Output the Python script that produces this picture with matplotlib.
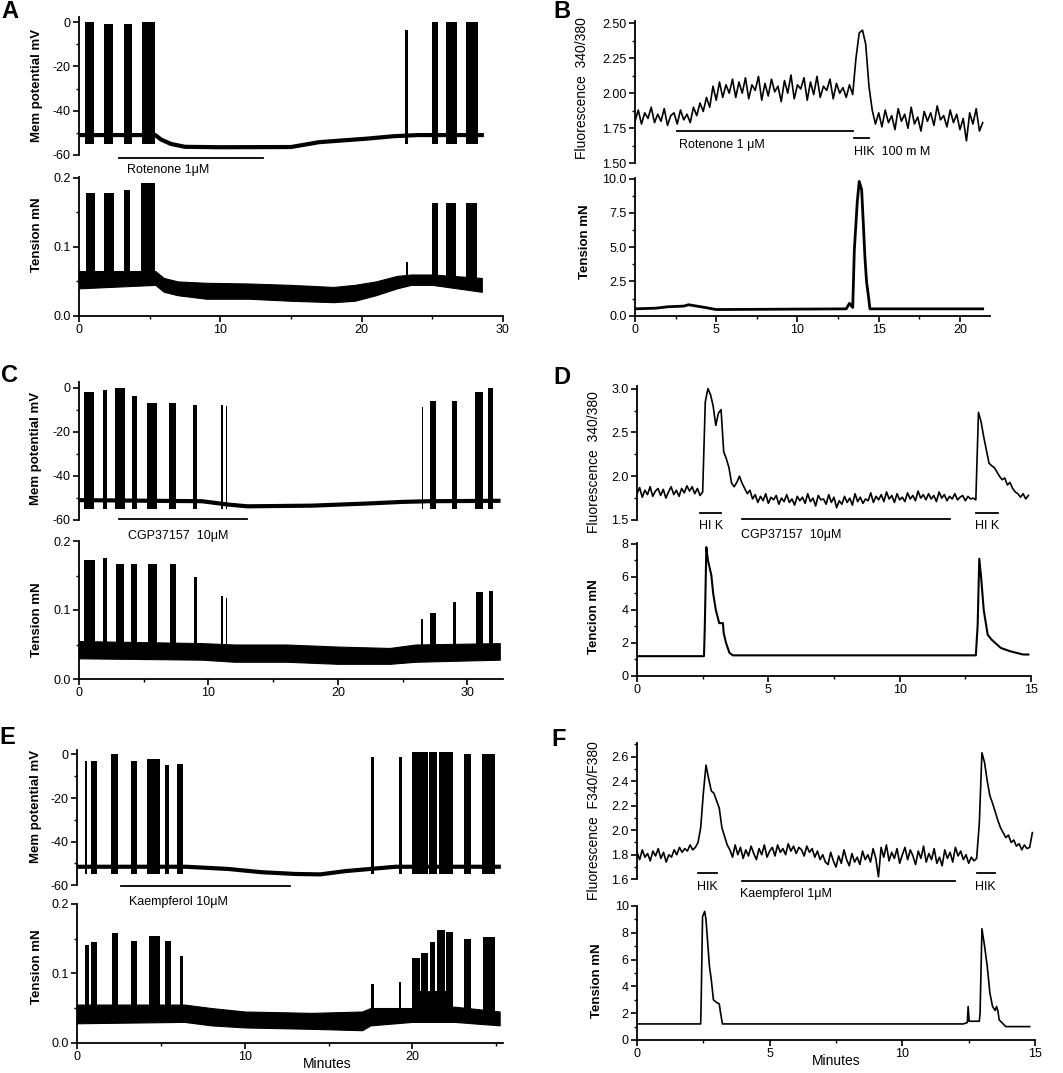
import numpy as np
import matplotlib
matplotlib.use("Agg")
import matplotlib.pyplot as plt
from matplotlib.ticker import MultipleLocator, FormatStrFormatter

plt.rcParams["font.family"] = ["Liberation Sans", "DejaVu Sans"]

W, H = 1063, 1073

# ---------------- A: rotenone, membrane potential / tension ----------------
a_mem_t = [0, 5.4, 5.8, 6.5, 7.5, 10, 15, 17, 20.4, 22.3, 24, 28.5]
a_mem_v = [-51, -51, -53, -55, -56.3, -56.5, -56.4, -54.2, -52.6, -51.5, -51, -51]
a_burst_start = [0.42, 1.77, 3.18, 4.46, 23.1, 24.96, 25.97, 27.4]
a_burst_end = [1.06, 2.41, 3.75, 5.38, 23.3, 25.4, 26.75, 28.2]
a_burst_peak = [0, -1, -1, 0, -3.6, 0, 0, 0]

a_ten_t = [0, 5.4, 6, 7, 9, 12, 15, 18, 19.5, 21, 22.5, 23.5, 25, 28.5]
a_ten_lo = [0.04, 0.045, 0.035, 0.03, 0.025, 0.025, 0.022, 0.02, 0.022, 0.03, 0.04, 0.045, 0.045, 0.035]
a_ten_hi = [0.065, 0.065, 0.055, 0.05, 0.048, 0.047, 0.045, 0.042, 0.045, 0.05, 0.058, 0.06, 0.06, 0.055]
a_con_start = [0.5, 1.8, 3.15, 4.4, 23.15, 24.95, 26.0, 27.35]
a_con_end = [1.1, 2.45, 3.6, 5.35, 23.3, 25.4, 26.7, 28.15]
a_con_top = [0.178, 0.178, 0.182, 0.193, 0.078, 0.163, 0.164, 0.163]

# ---------------- B: rotenone, fluorescence / tension ----------------
b_fl_dt = 0.2
b_fl_v = [1.80, 1.88, 1.78, 1.86, 1.82, 1.90, 1.79, 1.85, 1.80, 1.89, 1.77, 1.84, 1.86, 1.78, 1.88, 1.81,
          1.85, 1.79, 1.90, 1.84, 1.93, 1.87, 1.97, 1.90, 2.05, 1.95, 2.08, 1.97, 2.06, 2.00, 2.10,
          1.97, 2.08, 2.00, 2.11, 1.96, 2.06, 2.02, 2.12, 1.95, 2.07, 1.98, 2.10, 2.01, 2.05, 1.94, 2.09,
          2.00, 2.13, 1.96, 2.06, 2.03, 2.11, 1.95, 2.08, 1.99, 2.12, 1.97, 2.05, 2.02, 2.10, 1.96, 2.07,
          2.00, 2.04, 1.97, 2.06, 1.99,
          2.25, 2.43, 2.45, 2.35, 2.05, 1.88, 1.78,
          1.86, 1.76, 1.88, 1.79, 1.84, 1.74, 1.89, 1.80, 1.85, 1.75, 1.90, 1.78, 1.83, 1.73, 1.87, 1.80,
          1.86, 1.77, 1.91, 1.81, 1.84, 1.76, 1.88, 1.79, 1.85, 1.74, 1.82, 1.66, 1.86, 1.78, 1.89, 1.73, 1.79]
b_ten_t = [0, 1.3, 2.0, 3.0, 3.3, 4.3, 5.0, 13.0, 13.2, 13.4, 13.5, 13.68, 13.8, 13.95, 14.05, 14.15,
           14.25, 14.36, 14.46, 21.4]
b_ten_v = [0.5, 0.55, 0.65, 0.7, 0.8, 0.6, 0.45, 0.5, 0.9, 0.6, 4.8, 8.3, 9.8, 9.2, 6.8, 4.3,
           2.5, 1.5, 0.5, 0.5]

# ---------------- C: CGP37157, membrane potential / tension ----------------
c_mem_t = [0, 9.5, 11.5, 13, 18, 22, 25, 27, 32.4]
c_mem_v = [-51, -51.5, -53, -53.8, -53.5, -52.6, -51.8, -51.5, -51.3]
c_burst_start = [0.41, 1.83, 2.78, 4.07, 5.23, 6.97, 8.78, 11.0, 11.33, 26.46, 27.1, 28.83, 30.58, 31.6]
c_burst_end = [1.18, 2.19, 3.55, 4.45, 6.0, 7.49, 9.14, 11.12, 11.45, 26.58, 27.6, 29.16, 31.17, 32.0]
c_burst_peak = [-2, -1, 0, -4, -7, -7, -8, -8, -8.5, -9, -6, -6, -2, 0]

c_ten_t = [0, 9.5, 12, 16, 20, 24, 26, 32.5]
c_ten_lo = [0.03, 0.028, 0.025, 0.025, 0.022, 0.022, 0.025, 0.028]
c_ten_hi = [0.055, 0.052, 0.05, 0.05, 0.047, 0.045, 0.05, 0.052]
c_con_start = [0.42, 1.85, 2.85, 4.05, 5.3, 7.05, 8.85, 11.0, 11.33, 26.45, 27.1, 28.85, 30.65, 31.65]
c_con_end = [1.2, 2.15, 3.5, 4.5, 6.0, 7.5, 9.12, 11.1, 11.45, 26.58, 27.6, 29.15, 31.2, 32.0]
c_con_top = [0.172, 0.176, 0.167, 0.167, 0.167, 0.167, 0.148, 0.12, 0.118, 0.087, 0.095, 0.112, 0.126, 0.127]

# ---------------- D: CGP37157, fluorescence / tension ----------------
d_fl_dt = 0.1
d_fl_v = [1.80, 1.87, 1.76, 1.84, 1.79, 1.88, 1.77, 1.83, 1.86, 1.78, 1.85, 1.75, 1.82, 1.88, 1.79, 1.84,
          1.77, 1.86, 1.81, 1.89, 1.83, 1.88, 1.80, 1.86, 1.78, 1.82,
          2.85, 3.00, 2.93, 2.80, 2.58, 2.72, 2.76, 2.28, 2.20, 2.10, 1.92, 1.88, 1.93, 2.00, 1.92, 1.86, 1.80,
          1.84, 1.74, 1.79, 1.70, 1.77, 1.72, 1.80, 1.69, 1.76, 1.73,
          1.78, 1.68, 1.75, 1.71, 1.79, 1.70, 1.74, 1.67, 1.77, 1.72,
          1.76, 1.69, 1.80, 1.71, 1.75, 1.66, 1.78, 1.73, 1.74, 1.68,
          1.79, 1.70, 1.76, 1.64, 1.72, 1.68, 1.77, 1.70, 1.75, 1.67,
          1.80, 1.71, 1.76, 1.69, 1.74, 1.72, 1.81, 1.70, 1.77, 1.73,
          1.79, 1.71, 1.82, 1.74, 1.78, 1.70, 1.80, 1.73, 1.76, 1.71,
          1.81, 1.74, 1.78, 1.72, 1.83, 1.75, 1.79, 1.73, 1.80, 1.74,
          1.78, 1.71, 1.82, 1.75, 1.79, 1.72, 1.77, 1.74, 1.80, 1.73,
          1.76, 1.78, 1.72, 1.77, 1.74, 1.75, 1.73,
          2.73, 2.62, 2.45, 2.30, 2.15, 2.12, 2.10, 2.05, 2.00, 1.96, 1.98, 1.90, 1.93, 1.86, 1.82, 1.80,
          1.76, 1.80, 1.74, 1.78]
d_ten_t = [0, 2.55, 2.58, 2.64, 2.7, 2.83, 2.9, 3.0, 3.13, 3.27, 3.3, 3.39, 3.52, 3.65, 12.9, 12.97,
           13.03, 13.1, 13.2, 13.35, 13.5, 13.85, 14.2, 14.7, 14.9]
d_ten_v = [1.2, 1.2, 2.9, 7.8, 7.0, 6.1, 5.0, 4.0, 3.2, 3.2, 2.6, 2.0, 1.4, 1.25, 1.25, 3.1,
           7.1, 6.0, 4.0, 2.5, 2.2, 1.7, 1.5, 1.3, 1.3]

# ---------------- E: kaempferol, membrane potential / tension ----------------
e_mem_t = [0, 6.5, 9, 11, 13, 14.5, 16, 17.5, 19, 25.15]
e_mem_v = [-51.5, -51.5, -52.5, -54, -54.8, -55, -53.5, -52.5, -51.5, -51.5]
e_burst_start = [0.48, 0.82, 2.0, 3.2, 4.15, 5.25, 5.95, 17.55, 19.2, 20.0, 21.0, 21.6, 23.1, 24.15]
e_burst_end = [0.62, 1.17, 2.46, 3.56, 4.95, 5.5, 6.3, 17.68, 19.35, 20.95, 21.45, 22.44, 23.5, 24.9]
e_burst_peak = [-3, -3, 0, -3, -2, -5, -4.5, -1, -1, 1, 1, 1, 0, 0]

e_ten_t = [0, 6.4, 8, 10, 14, 17, 17.5, 20, 22.5, 25.2]
e_ten_lo = [0.028, 0.03, 0.025, 0.022, 0.02, 0.018, 0.025, 0.03, 0.03, 0.025]
e_ten_hi = [0.055, 0.055, 0.05, 0.045, 0.043, 0.045, 0.05, 0.05, 0.052, 0.045]
e_con_start = [0.48, 0.86, 2.1, 3.24, 4.27, 5.26, 6.12, 17.55, 19.2, 20.0, 20.0, 20.5, 21.05, 21.45, 22.0, 23.1, 24.2]
e_con_end = [0.72, 1.2, 2.46, 3.56, 4.93, 5.6, 6.3, 17.68, 19.32, 22.4, 20.47, 20.95, 21.35, 21.95, 22.4, 23.5, 24.9]
e_con_top = [0.141, 0.145, 0.158, 0.146, 0.154, 0.146, 0.125, 0.085, 0.088, 0.075, 0.122, 0.13, 0.145, 0.162, 0.16, 0.15, 0.152]

# ---------------- F: kaempferol, fluorescence / tension ----------------
f_fl_dt = 0.1
f_fl_v = [1.82, 1.76, 1.84, 1.78, 1.81, 1.75, 1.83, 1.79, 1.85, 1.77, 1.82, 1.74, 1.80, 1.78, 1.84, 1.80,
          1.86, 1.82, 1.85, 1.83, 1.88, 1.84, 1.86, 1.90,
          2.02, 2.30, 2.53, 2.42, 2.32, 2.30, 2.24, 2.18, 2.02, 1.95, 1.88, 1.84,
          1.78, 1.88, 1.80, 1.86, 1.77, 1.84, 1.79, 1.87, 1.81, 1.76, 1.85, 1.80, 1.88, 1.78, 1.83, 1.86,
          1.79, 1.88, 1.82, 1.85, 1.80, 1.89, 1.83, 1.87, 1.81, 1.86, 1.84, 1.79, 1.87, 1.82, 1.85, 1.78,
          1.83, 1.76,
          1.80, 1.74, 1.72, 1.82, 1.75, 1.70, 1.79, 1.73, 1.84, 1.76, 1.71, 1.81, 1.74, 1.78, 1.72, 1.83,
          1.76, 1.80, 1.74, 1.85, 1.77, 1.62,
          1.86, 1.78, 1.88, 1.75, 1.82, 1.77, 1.85, 1.73, 1.80, 1.86, 1.76, 1.84, 1.79, 1.72, 1.83, 1.77,
          1.87, 1.74, 1.81, 1.76, 1.85, 1.73, 1.78, 1.71, 1.84, 1.77, 1.82, 1.74, 1.86, 1.79, 1.83, 1.76,
          1.80, 1.73, 1.78, 1.75, 1.77,
          2.05, 2.63, 2.55, 2.40, 2.28, 2.22, 2.15, 2.08, 2.02, 1.98, 1.94, 1.96, 1.90, 1.92, 1.87, 1.89,
          1.84, 1.88, 1.85, 1.86, 1.98]
f_ten_t = [0, 2.4, 2.42, 2.47, 2.55, 2.6, 2.67, 2.73, 2.8, 2.88, 3.0, 3.1, 3.15, 3.22, 12.3, 12.45,
           12.48, 12.52, 12.9, 12.93, 13.0, 13.1, 13.2, 13.3, 13.4, 13.5, 13.55, 13.6, 13.65, 13.9, 14.8]
f_ten_v = [1.2, 1.2, 3.0, 9.2, 9.6, 9.0, 7.1, 5.5, 4.5, 3.0, 2.8, 2.7, 2.0, 1.2, 1.2, 1.3,
           2.5, 1.4, 1.4, 2.0, 8.3, 7.0, 5.5, 3.5, 2.5, 2.2, 2.5, 2.2, 1.5, 1.0, 1.0]

# drug application bars: (start, end, label)
a_drugs = [(2.8, 13.0, "Rotenone 1μM")]
b_drugs = [(2.6, 13.4, "Rotenone 1 μM"), (13.48, 14.4, "HIK  100 m M")]
c_drugs = [(3.1, 13.0, "CGP37157  10μM")]
d_drugs = [(2.4, 3.2, "HI K"), (4.0, 11.9, "CGP37157  10μM"), (12.9, 13.75, "HI K")]
e_drugs = [(2.6, 12.7, "Kaempferol 10μM")]
f_drugs = [(2.3, 3.0, "HIK"), (3.95, 12.0, "Kaempferol 1μM"), (12.8, 13.5, "HIK")]


fig = plt.figure(figsize=(W / 100, H / 100), dpi=100)


def axes_px(left, top, right, bottom):
    return fig.add_axes([left / W, 1 - bottom / H, (right - left) / W, (bottom - top) / H])


def style(ax, xlim, ylim, ymaj, ymin, yfmt, xmaj=None, xmin=None):
    ax.set_xlim(xlim)
    ax.set_ylim(ylim)
    ax.patch.set_visible(False)
    ax.spines["top"].set_visible(False)
    ax.spines["right"].set_visible(False)
    for s in ["left", "bottom"]:
        ax.spines[s].set_linewidth(1.3)
    ax.yaxis.set_major_locator(MultipleLocator(ymaj))
    ax.yaxis.set_minor_locator(MultipleLocator(ymin))
    ax.yaxis.set_major_formatter(FormatStrFormatter(yfmt))
    ax.tick_params(which="major", direction="out", length=4, width=1.2, labelsize=9, pad=2)
    ax.tick_params(which="minor", direction="out", length=2.5, width=1.0)
    if xmaj is None:
        ax.spines["bottom"].set_visible(False)
        ax.xaxis.set_visible(False)
    else:
        ax.xaxis.set_major_locator(MultipleLocator(xmaj))
        ax.xaxis.set_minor_locator(MultipleLocator(xmin))
        ax.xaxis.set_major_formatter(FormatStrFormatter("%d"))


def draw_blocks(ax, starts, ends, tops, floor):
    widths = np.subtract(ends, starts)
    heights = np.subtract(tops, floor)
    ax.bar(starts, heights, width=widths, bottom=floor, align="edge", color="k", lw=0)


def draw_drugs(ax, drugs, line_y, text_y, lw=1.3):
    for start, end, label in drugs:
        ax.plot([start, end], [line_y, line_y], color="k", lw=lw, clip_on=False)
        ax.text(start + 0.02 * (ax.get_xlim()[1]), text_y, label, fontsize=9,
                ha="left", va="center", clip_on=False)


def draw_drugs_multi(ax, drugs, line_ys, text_ys):
    for (start, end, label), ly, ty in zip(drugs, line_ys, text_ys):
        ax.plot([start, end], [ly, ly], color="k", lw=1.3, clip_on=False)
        ax.text(start - 0.05, ty, label, fontsize=9, ha="left", va="center", clip_on=False)


# ---- A ----
ax = axes_px(79, 17, 503, 155)
style(ax, (0, 30), (-60, 2.3), 20, 10, "%d")
draw_blocks(ax, a_burst_start, a_burst_end, a_burst_peak, -55)
ax.plot(a_mem_t, a_mem_v, color="k", lw=3)
draw_drugs(ax, a_drugs, -61.4, -66.8)

ax = axes_px(79, 177, 503, 316)
style(ax, (0, 30), (0, 0.201), 0.1, 0.05, "%.1f", 10, 5)
ax.fill_between(a_ten_t, a_ten_lo, a_ten_hi, color="k", lw=0.8)
draw_blocks(ax, a_con_start, a_con_end, a_con_top, 0.045)

# ---- B ----
ax = axes_px(635, 21, 990, 163.3)
style(ax, (0, 21.85), (1.5, 2.515), 0.25, 0.125, "%.2f")
ax.plot(np.arange(len(b_fl_v)) * b_fl_dt, b_fl_v, color="k", lw=1.2)
ax.plot([b_drugs[0][0], b_drugs[0][1]], [1.73, 1.73], color="k", lw=1.3, clip_on=False)
ax.plot([b_drugs[1][0], b_drugs[1][1]], [1.68, 1.68], color="k", lw=1.3, clip_on=False)
ax.text(2.7, 1.63, b_drugs[0][2], fontsize=9, ha="left", va="center")
ax.text(13.5, 1.58, b_drugs[1][2], fontsize=9, ha="left", va="center")

ax = axes_px(635, 178, 990, 315.7)
style(ax, (0, 21.85), (0, 10.05), 2.5, 1.25, "%.1f", 5, 2.5)
ax.plot(b_ten_t, b_ten_v, color="k", lw=2)

# ---- C ----
ax = axes_px(79, 382, 503, 520)
style(ax, (0, 32.75), (-60, 2.5), 20, 10, "%d")
draw_blocks(ax, c_burst_start, c_burst_end, c_burst_peak, -55)
ax.plot(c_mem_t, c_mem_v, color="k", lw=3)
draw_drugs(ax, c_drugs, -59.7, -67.4)

ax = axes_px(79, 541, 503, 679)
style(ax, (0, 32.75), (0, 0.2), 0.1, 0.05, "%.1f", 10, 5)
ax.fill_between(c_ten_t, c_ten_lo, c_ten_hi, color="k", lw=0.8)
draw_blocks(ax, c_con_start, c_con_end, c_con_top, 0.035)

# ---- D ----
ax = axes_px(637, 386, 1031, 520)
style(ax, (0, 15), (1.5, 3.03), 0.5, 0.25, "%.1f")
ax.plot(np.arange(len(d_fl_v)) * d_fl_dt, d_fl_v, color="k", lw=1.2)
draw_drugs_multi(ax, d_drugs, [1.58, 1.51, 1.58], [1.43, 1.33, 1.43])

ax = axes_px(637, 543, 1031, 676)
style(ax, (0, 15), (0, 8.05), 2, 1, "%d", 5, 2.5)
ax.plot(d_ten_t, d_ten_v, color="k", lw=1.5)

# ---- E ----
ax = axes_px(77, 750, 503, 885.3)
style(ax, (0, 25.4), (-60, 2), 20, 10, "%d")
draw_blocks(ax, e_burst_start, e_burst_end, e_burst_peak, -55)
ax.plot(e_mem_t, e_mem_v, color="k", lw=3)
draw_drugs(ax, e_drugs, -60.3, -67.7)

ax = axes_px(77, 904, 503, 1042.7)
style(ax, (0, 25.4), (0, 0.2), 0.1, 0.05, "%.1f", 10, 5)
ax.fill_between(e_ten_t, e_ten_lo, e_ten_hi, color="k", lw=0.8)
draw_blocks(ax, e_con_start, e_con_end, e_con_top, 0.035)

# ---- F ----
ax = axes_px(637, 743, 1035, 879.3)
style(ax, (0, 15), (1.6, 2.71), 0.2, 0.1, "%.1f")
ax.plot(np.arange(len(f_fl_v)) * f_fl_dt, f_fl_v, color="k", lw=1.2)
draw_drugs_multi(ax, f_drugs, [1.65, 1.585, 1.65], [1.54, 1.48, 1.54])

ax = axes_px(637, 906, 1035, 1040)
style(ax, (0, 15), (0, 10), 2, 1, "%d", 5, 2.5)
ax.plot(f_ten_t, f_ten_v, color="k", lw=1.2)

# ---- axis titles, panel letters ----
ylabels = [
    (37, 85, "Mem potential mV", "bold"), (37, 235, "Tension mN", "bold"),
    (582, 88, "Fluorescence  340/380", "normal"), (585, 242, "Tension mN", "bold"),
    (36, 448, "Mem potential mV", "bold"), (37, 620, "Tension mN", "bold"),
    (594, 462, "Fluorescence  340/380", "normal"), (594, 617, "Tencion mN", "bold"),
    (36, 806, "Mem potential mV", "bold"), (37, 967, "Tension mN", "bold"),
    (594, 821, "Fluorescence  F340/F380", "normal"), (597, 981, "Tension mN", "bold"),
]
for x, y, s, wt in ylabels:
    fig.text(x / W, 1 - y / H, s, rotation=90, ha="center", va="center",
             fontsize=9.5 if wt == "bold" else 10, fontweight=wt)

for x, y, s in [(10, 12, "A"), (562, 12, "B"), (9, 376, "C"), (562, 377, "D"), (7, 738, "E"), (559, 740, "F")]:
    fig.text(x / W, 1 - y / H, s, ha="center", va="center", fontsize=17, fontweight="bold")

fig.text(327 / W, 1 - 1064 / H, "Minutes", ha="center", va="center", fontsize=10)
fig.text(836 / W, 1 - 1061 / H, "Minutes", ha="center", va="center", fontsize=10)

fig.savefig("out.png", dpi=100)
